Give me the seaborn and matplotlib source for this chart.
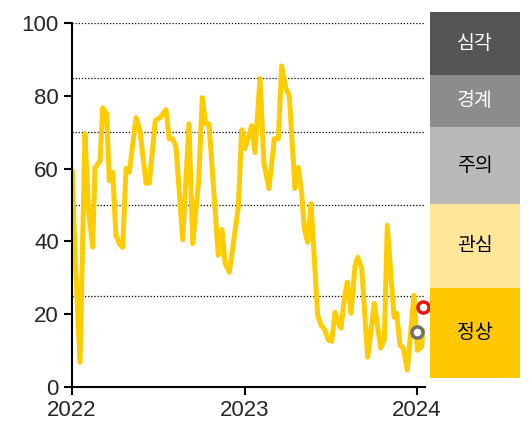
import matplotlib
matplotlib.use("Agg")
import matplotlib.pyplot as plt
import seaborn as sns
import pandas as pd

# x positions read as pixel columns, converted to decimal years below
x_px = [72.3, 75, 80, 85, 88.3, 92.7, 95, 100, 102.7, 106.7, 109.3, 112.7, 116, 119.3,
        122.7, 126, 129.3, 136, 140, 146, 149.3, 155.3, 160, 166, 169.3, 172.7, 176,
        182.7, 189, 192.7, 198.7, 202.3, 205.7, 209, 218.3, 222, 225, 229.3, 238.3,
        241.7, 245, 251.7, 255, 260, 264, 269, 274.3, 278.3, 281.7, 285.7, 289.3, 295,
        298.3, 301.7, 304.3, 307.7, 311, 317.7, 321, 325, 328.3, 331.7, 335, 338.3, 341,
        344.3, 347.3, 351, 355, 357.7, 361.7, 367.7, 374.3, 380.7, 384.3, 387.3, 394,
        396.7, 400, 403.3, 407.3, 414, 417.3, 421.7, 422.7]
values = [59.4, 36.7, 6.8, 69.6, 49.3, 38.4, 60.3, 62, 76.7, 75, 56.7, 59, 41.6, 39.4,
          38.4, 60, 59, 74, 70.4, 56, 56, 73.2, 74, 76.2, 68.2, 68.2, 66,
          40.5, 72.3, 39.4, 56.7, 79.5, 72.3, 72.3, 36.2, 43.3, 34.2, 31.5, 49.3,
          70.7, 65.5, 71.8, 64.4, 84.7, 61.4, 54.5, 68.2, 68.2, 88.2, 82.2, 80, 54.5,
          60.3, 53.2, 43.6, 39.7, 50.4, 19.7, 17, 15.6, 12.9, 12.6, 20.5, 17.5, 16.2,
          24.1, 28.8, 20.3, 33.2, 35.6, 32.6, 8.2, 23, 10.7, 12.9, 44.4, 19.2,
          20.3, 11.5, 10.7, 4.7, 25.2, 10.1, 11, 15.6]
dates = [2022 + (p - 72) / 172.5 for p in x_px]

gray_pt = (2022 + (416.7 - 72) / 172.5, 15.1)
red_pt = (2022 + (423 - 72) / 172.5, 21.9)

levels = ["심각", "경계", "주의", "관심", "정상"]
level_lines = [85, 70, 50, 25]
box_edges = [12, 75, 127, 204, 288, 378]  # pixel rows of the side legend
box_colors = ["#555555", "#8c8c8c", "#b8b8b8", "#ffe699", "#ffc800"]
text_colors = ["white", "white", "black", "black", "black"]

sns.set_style("white")
plt.rcParams["font.family"] = ["Noto Sans CJK KR", "DejaVu Sans"]

fig = plt.figure(figsize=(5.32, 4.41), dpi=100)
ax = fig.add_axes([72 / 532, 54 / 441, 353 / 532, 364 / 441])

df = pd.DataFrame({"date": dates, "value": values})
sns.lineplot(data=df, x="date", y="value", ax=ax, color="#ffcc00", linewidth=3.6)

for lv in level_lines + [100]:
    ax.axhline(lv, color="black", linestyle=(0, (1, 1.5)), linewidth=0.9, zorder=0)

ax.plot(*gray_pt, "o", ms=8, mfc="white", mec="#707070", mew=2.5, zorder=5, clip_on=False)
ax.plot(*red_pt, "o", ms=8, mfc="white", mec="#e8141c", mew=2.5, zorder=5, clip_on=False)

ax.set_xlim(2022, 2022 + 353 / 172.5)
ax.set_ylim(0, 100)
ax.set_xticks([2022, 2023, 2024])
ax.set_xticklabels(["2022", "2023", "2024"])
ax.set_yticks([0, 20, 40, 60, 80, 100])
ax.tick_params(axis="both", direction="out", length=6, width=1.5, labelsize=16,
               color="black", left=True, bottom=True)
for lab in ax.get_xticklabels() + ax.get_yticklabels():
    lab.set_family("Liberation Sans")
ax.set_xlabel("")
ax.set_ylabel("")
for side in ["top", "right"]:
    ax.spines[side].set_visible(False)
for side in ["left", "bottom"]:
    ax.spines[side].set_color("black")
    ax.spines[side].set_linewidth(1.5)

# side legend boxes
lax = fig.add_axes([430 / 532, 0, 90 / 532, 1])
lax.set_xlim(0, 1)
lax.set_ylim(441, 0)
lax.axis("off")
for i, name in enumerate(levels):
    y0, y1 = box_edges[i], box_edges[i + 1]
    lax.fill_between([0, 1], y0, y1, color=box_colors[i], linewidth=0)
    lax.text(0.5, (y0 + y1) / 2, name, ha="center", va="center",
             fontsize=14, fontweight="medium", color=text_colors[i])

fig.savefig("out.png", dpi=100)
